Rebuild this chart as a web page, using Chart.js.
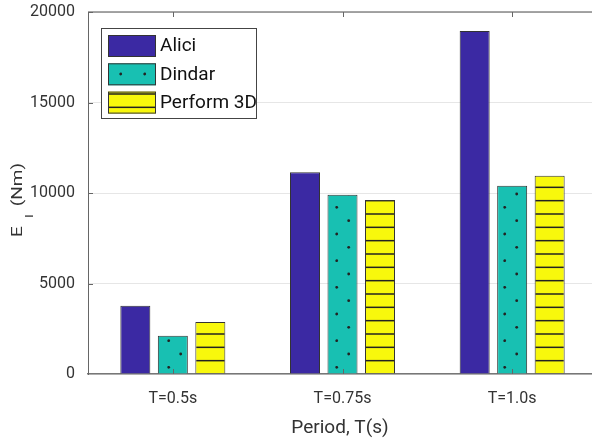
<!DOCTYPE html>
<html>
<head>
<meta charset="utf-8">
<script src="https://cdn.jsdelivr.net/npm/chart.js@4.4.1/dist/chart.umd.min.js"></script>
<style>
  html, body { margin: 0; padding: 0; background: #fff; overflow: hidden; }
  #wrap { width: 600px; height: 442px; }
</style>
</head>
<body>
<div id="wrap"><canvas id="chart" width="600" height="442"></canvas></div>
<script>
const FONT = 'Roboto, "Noto Sans", sans-serif';

const categories = ['T=0.5s', 'T=0.75s', 'T=1.0s'];
const alici = [3770, 11150, 18950];
const dindar = [2110, 9900, 10400];
const perform3d = [2870, 9610, 10950];
const yTicks = [0, 5000, 10000, 15000, 20000];

const COLORS = { alici: '#3b29a3', dindar: '#18c0b2', perform: '#f8f80c', ink: '#222' };

// dotted fill for Dindar
function dotPattern(ctx) {
  const c = document.createElement('canvas');
  c.width = 24; c.height = 80;
  const g = c.getContext('2d');
  g.fillStyle = COLORS.dindar;
  g.fillRect(0, 0, 24, 80);
  g.fillStyle = COLORS.ink;
  const rows = [7.33, 20.67, 34, 47.33, 60.67, 74];
  rows.forEach((y, j) => {
    const xs = j % 2 === 1 ? [0.7, 24.7] : [12.7];
    xs.forEach(x => { g.beginPath(); g.arc(x, y, 1.4, 0, Math.PI * 2); g.fill(); });
  });
  return ctx.createPattern(c, 'repeat');
}

// horizontal lines for Perform 3D
function linePattern(ctx) {
  const c = document.createElement('canvas');
  c.width = 8; c.height = 40;
  const g = c.getContext('2d');
  g.fillStyle = COLORS.perform;
  g.fillRect(0, 0, 8, 40);
  g.strokeStyle = COLORS.ink;
  g.lineWidth = 1.5;
  [0.67, 14, 27.33, 40.67].forEach(y => { g.beginPath(); g.moveTo(0, y); g.lineTo(8, y); g.stroke(); });
  return ctx.createPattern(c, 'repeat');
}

const canvas = document.getElementById('chart');
const ctx0 = canvas.getContext('2d');
const fills = [COLORS.alici, dotPattern(ctx0), linePattern(ctx0)];
const names = ['Alici', 'Dindar', 'Perform 3D'];

const boxPlugin = {
  id: 'box',
  afterDatasetsDraw(chart) {
    const { ctx, chartArea: a, scales } = chart;
    ctx.save();
    // top and right border
    ctx.strokeStyle = '#888';
    ctx.lineWidth = 1.5;
    ctx.beginPath();
    ctx.moveTo(a.left, a.top); ctx.lineTo(a.right, a.top); ctx.lineTo(a.right, a.bottom);
    ctx.stroke();
    // inward ticks
    ctx.strokeStyle = '#666';
    ctx.lineWidth = 1;
    yTicks.slice(1).forEach(v => {
      const y = Math.round(scales.y.getPixelForValue(v)) + 0.5;
      ctx.beginPath(); ctx.moveTo(a.left, y); ctx.lineTo(a.left + 5, y); ctx.stroke();
      ctx.beginPath(); ctx.moveTo(a.right, y); ctx.lineTo(a.right - 5, y); ctx.stroke();
    });
    categories.forEach((_, i) => {
      const x = Math.round(scales.x.getPixelForValue(i)) + 0.5;
      ctx.beginPath(); ctx.moveTo(x, a.bottom); ctx.lineTo(x, a.bottom - 5); ctx.stroke();
      ctx.beginPath(); ctx.moveTo(x, a.top); ctx.lineTo(x, a.top + 5); ctx.stroke();
    });
    ctx.restore();
  },
  afterDraw(chart) {
    const { ctx } = chart;
    ctx.save();
    // legend
    ctx.fillStyle = '#fff';
    ctx.fillRect(101.5, 28.5, 155, 90);
    ctx.strokeStyle = '#444';
    ctx.lineWidth = 1;
    ctx.strokeRect(101.5, 28.5, 155, 90);
    const ys = [35, 63.3, 91.6];
    ys.forEach((y, i) => {
      ctx.fillStyle = fills[i];
      ctx.fillRect(108, y, 48, 22);
      ctx.strokeStyle = '#333';
      ctx.strokeRect(108.5, y + 0.5, 47, 21);
      ctx.fillStyle = '#111';
      ctx.font = '19px ' + FONT;
      ctx.textBaseline = 'middle';
      ctx.textAlign = 'left';
      ctx.fillText(names[i], 160, y + 11.5);
    });
    // x title
    ctx.fillStyle = '#333';
    ctx.font = '19px ' + FONT;
    ctx.textAlign = 'center';
    ctx.textBaseline = 'alphabetic';
    ctx.fillText('Period, T(s)', 340, 433);
    // y title with subscript, squeezed across the text direction
    ctx.translate(22, 237);
    ctx.rotate(-Math.PI / 2);
    ctx.scale(1, 0.8);
    ctx.textAlign = 'left';
    ctx.font = '19px ' + FONT;
    ctx.fillText('E', 0, 0);
    ctx.font = '14px ' + FONT;
    ctx.fillText('I', 19, 13.5);
    ctx.font = '19px ' + FONT;
    ctx.textAlign = 'right';
    ctx.fillText('(Nm)', 74, 0);
    ctx.restore();
  }
};

new Chart(canvas, {
  type: 'bar',
  data: {
    labels: categories,
    datasets: [alici, dindar, perform3d].map((data, i) => ({
      label: names[i],
      data,
      backgroundColor: fills[i],
      borderColor: '#333',
      borderWidth: 1,
      categoryPercentage: 0.663,
      barPercentage: 0.8,
    })),
  },
  options: {
    responsive: false,
    animation: false,
    layout: { padding: { left: 0, top: 12, right: 3, bottom: 0 } },
    plugins: { legend: { display: false }, tooltip: { enabled: false } },
    scales: {
      x: {
        grid: { display: false, drawTicks: false },
        border: { color: '#777', width: 1.5 },
        ticks: { padding: 15, color: '#333', font: { family: FONT, size: 16 } },
        afterFit(s) { s.height = 68; s.paddingLeft = 0; s.paddingRight = 0; },
      },
      y: {
        min: 0,
        max: 20000,
        afterBuildTicks(s) { s.ticks = yTicks.map(v => ({ value: v })); },
        grid: { color: '#e6e6e6', drawTicks: false },
        border: { color: '#666', width: 1 },
        ticks: { padding: 13, color: '#333', font: { family: FONT, size: 16 }, callback: v => String(v) },
        afterFit(s) { s.width = 88; s.paddingTop = 0; s.paddingBottom = 0; },
      },
    },
  },
  plugins: [boxPlugin],
});
</script>
</body>
</html>
